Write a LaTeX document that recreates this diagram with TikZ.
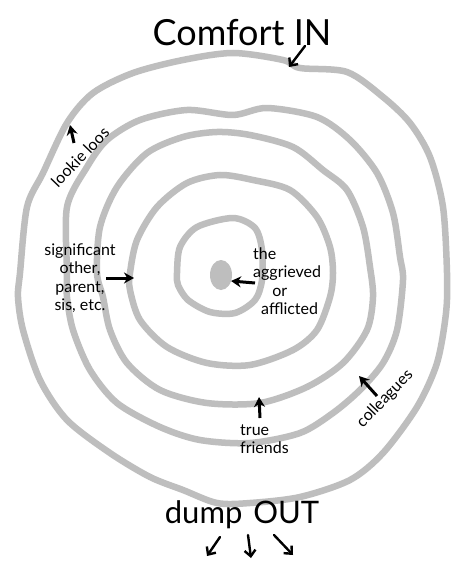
\documentclass[tikz,border=0pt]{standalone}
\usepackage{fontspec}
\setmainfont{Lato}
\usetikzlibrary{arrows.meta}
\definecolor{ringgray}{RGB}{190,190,190}
\tikzset{
  ring/.style={draw=ringgray, line width=6.5pt, line join=round},
  lbl/.style={font=\fontsize{16}{18.5}\selectfont, inner sep=0pt, text=black},
  big/.style={font=\fontsize{36}{40}\selectfont, inner sep=0pt, text=black},
  ptr/.style={line width=3pt, -{Stealth[length=10pt,width=11pt]}},
  vptr/.style={line width=2.4pt, line cap=round, -{Straight Barb[length=6pt,width=11pt]}},
}
\begin{document}
\begin{tikzpicture}[x=1pt,y=-1pt]
\useasboundingbox (0,0) rectangle (452,561);
\fill[white] (0,0) rectangle (452,561);

% rings
\draw[ring] plot[smooth cycle] coordinates {(20,273) (27,207) (43,173) (67,123) (93,93) (133,73) (183,60) (233,53) (283,60) (300,68) (347,72) (383,97) (410,123) (430,157) (443,207) (447,273) (446,313) (437,363) (417,407) (383,453) (350,480) (300,497) (250,503) (217,503) (183,490) (150,477) (110,453) (67,420) (40,380) (23,330) (18,297)};
\draw[ring] plot[smooth cycle] coordinates {(67,273) (67,207) (87,167) (107,140) (140,120) (187,110) (233,115) (267,108) (317,117) (350,140) (377,173) (393,213) (400,257) (403,280) (397,330) (383,363) (360,390) (333,413) (300,433) (250,443) (200,440) (160,427) (117,403) (90,370) (73,330) (67,297)};
\draw[ring] plot[smooth cycle] coordinates {(97,273) (100,227) (117,187) (147,153) (183,137) (217,132) (250,135) (293,147) (323,170) (347,190) (363,227) (370,267) (373,297) (367,330) (343,363) (307,387) (260,403) (207,403) (160,390) (127,363) (110,330) (103,297)};
\draw[ring] plot[smooth cycle] coordinates {(130,273) (137,240) (157,207) (187,183) (220,175) (253,180) (290,190) (317,217) (330,247) (333,273) (330,297) (317,330) (293,350) (250,365) (207,363) (167,347) (140,320) (130,290)};
\draw[ring] plot[smooth cycle] coordinates {(177,273) (180,247) (197,227) (233,218) (255,228) (262,250) (262,280) (255,300) (235,313) (210,312) (188,300) (178,285)};
\fill[ringgray] (221,275) ellipse [x radius=11, y radius=15];

% texts
\node[big] (comfort) at (242,33) {Comfort IN};
\node[big, font=\fontsize{31}{36}\selectfont] (dump) at (242,515) {dump\hspace{0.35em}OUT};
\node[lbl, rotate=46] (lookie) at (80,157) {lookie loos};
\node[lbl, align=center] (sig) at (80,278) {significant\\other,\\parent,\\sis, etc.};
\node[lbl, align=left, anchor=west] (agg) at (253,281) {the\\aggrieved\\\hspace*{1.2em}or\\\hspace*{0.5em}afflicted};
\node[lbl, align=left, anchor=west] (true) at (240,439) {true\\friends};
\node[lbl, rotate=46] (coll) at (385,399) {colleagues};

% pointer ends
\coordinate (inA) at (305,46);  \coordinate (inB) at (289,67);
\coordinate (lkA) at (74,143);  \coordinate (lkB) at (70,125);
\coordinate (sgA) at (106,278); \coordinate (sgB) at (134,278);
\coordinate (agA) at (255,283); \coordinate (agB) at (231,281);
\coordinate (tfA) at (260,418); \coordinate (tfB) at (259,397);
\coordinate (clA) at (377,396); \coordinate (clB) at (359,376);
\coordinate (o1A) at (220,537); \coordinate (o1B) at (207,556);
\coordinate (o2A) at (248,535); \coordinate (o2B) at (251,558);
\coordinate (o3A) at (274,535); \coordinate (o3B) at (293,555);

\draw[vptr] (inA) -- (inB);
\draw[ptr] (lkA) -- (lkB);
\draw[ptr] (sgA) -- (sgB);
\draw[ptr] (agA) -- (agB);
\draw[ptr] (tfA) -- (tfB);
\draw[ptr] (clA) -- (clB);
\draw[vptr] (o1A) -- (o1B);
\draw[vptr] (o2A) -- (o2B);
\draw[vptr] (o3A) -- (o3B);
\end{tikzpicture}
\end{document}
